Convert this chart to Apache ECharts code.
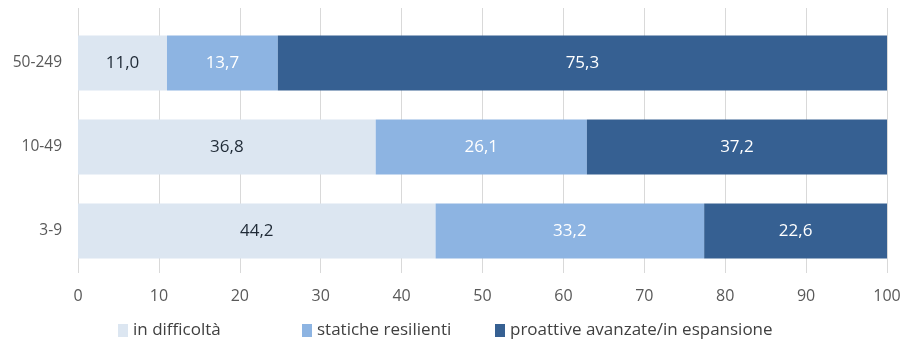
<!DOCTYPE html>
<html>
<head>
<meta charset="utf-8">
<script src="https://cdn.jsdelivr.net/npm/echarts@6/dist/echarts.min.js"></script>
<style>
  html, body { margin: 0; padding: 0; background: #fff; }
  #chart { width: 901px; height: 350px; }
</style>
</head>
<body>
<div id="chart"></div>
<script>
// categories, bottom to top
const categories = ['3-9', '10-49', '50-249']
const seriesNames = ['in difficoltà', 'statiche resilienti', 'proattive avanzate/in espansione']
const inDifficolta = [44.2, 36.8, 11.0]
const staticheResilienti = [33.2, 26.1, 13.7]
const proattive = [22.6, 37.2, 75.3]
const xTicks = [0, 10, 20, 30, 40, 50, 60, 70, 80, 90, 100]

const colors = ['#dce6f1', '#8db4e2', '#366092']
const labelColors = ['#1f2a36', '#ffffff', '#ffffff']
const font = '"Open Sans", "Liberation Sans", sans-serif'

const values = [inDifficolta, staticheResilienti, proattive]

const series = values.map((data, i) => ({
  name: seriesNames[i],
  type: 'bar',
  stack: 'tot',
  barWidth: 55,
  xAxisIndex: 0,
  yAxisIndex: 0,
  itemStyle: { color: colors[i] },
  label: {
    show: true,
    position: 'inside',
    color: labelColors[i],
    fontFamily: font,
    fontSize: 17,
    formatter: p => p.value.toFixed(1).replace('.', ',')
  },
  data: data
}))

const legendLefts = [118, 302, 495]
const legends = seriesNames.map((n, i) => ({
  data: [{ name: n, icon: 'rect' }],
  left: legendLefts[i],
  top: 322,
  padding: 0,
  itemWidth: 10,
  itemHeight: 13,
  itemGap: 5,
  textStyle: { color: '#404040', fontFamily: font, fontSize: 17 },
  selectedMode: false
}))

const option = {
  animation: false,
  color: colors,
  legend: legends,
  grid: [
    { left: 78, right: 14, top: 21, height: 252, containLabel: false, outerBoundsMode: 'none' },
    { left: 78, right: 14, top: 8, height: 13, containLabel: false, outerBoundsMode: 'none' }
  ],
  xAxis: [
    {
      gridIndex: 0,
      type: 'value',
      min: 0,
      max: 100,
      interval: 10,
      axisLine: { show: false },
      axisTick: { show: false },
      splitLine: { show: true, lineStyle: { color: '#d9d9d9', width: 1 } },
      axisLabel: {
        color: '#595959',
        fontFamily: font,
        fontSize: 16,
        margin: 15,
        formatter: v => xTicks.includes(v) ? String(v) : ''
      }
    },
    {
      gridIndex: 1,
      type: 'value',
      min: 0,
      max: 100,
      interval: 10,
      axisLine: { show: false },
      axisTick: { show: false },
      axisLabel: { show: false },
      splitLine: { show: true, lineStyle: { color: '#d9d9d9', width: 1 } }
    }
  ],
  yAxis: [
    {
      gridIndex: 0,
      type: 'category',
      data: categories,
      axisLine: { show: false },
      axisTick: { show: false },
      axisLabel: { color: '#595959', fontFamily: font, fontSize: 15.5, margin: 16 }
    },
    {
      gridIndex: 1,
      type: 'category',
      data: [''],
      show: false
    }
  ],
  series: series
}

const chart = echarts.init(document.getElementById('chart'), null, { renderer: 'canvas' })
chart.setOption(option)
</script>
</body>
</html>
